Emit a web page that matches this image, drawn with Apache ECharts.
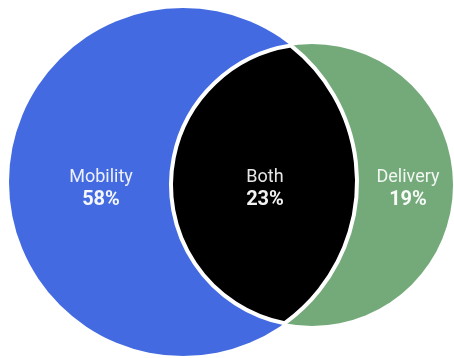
<!DOCTYPE html>
<html>
<head>
<meta charset="utf-8">
<script src="https://cdn.jsdelivr.net/npm/echarts@6/dist/echarts.min.js"></script>
<style>
  html, body { margin: 0; padding: 0; background: #ffffff; }
  #chart { width: 454px; height: 358px; }
</style>
</head>
<body>
<div id="chart"></div>
<script>
  // region names and their shares (%)
  const regionNames = ['Mobility', 'Both', 'Delivery'];
  const regionShares = [58, 23, 19];

  // the two sets of the diagram
  const setNames = ['Mobility', 'Delivery'];

  // layout in axis units (axis spans the whole canvas)
  const layout = {
    circleX: [183, 312],
    circleY: [182, 185],
    circleR: [174, 141],
    labelX: [101, 265, 408],
    labelY: 188
  };

  const colors = {
    Mobility: '#436ae0',
    Delivery: '#74aa7a',
    Both: '#000000'
  };

  const chart = echarts.init(document.getElementById('chart'));

  // circle of set i in pixels
  function circlePx(api, i) {
    const c = api.coord([layout.circleX[i], layout.circleY[i]]);
    const r = Math.abs(api.size([layout.circleR[i], 0])[0]);
    return { x: c[0], y: c[1], r: r };
  }

  // lens shape (intersection of the two circles) as svg path
  function lensPath(a, b) {
    const dx = b.x - a.x, dy = b.y - a.y;
    const d = Math.sqrt(dx * dx + dy * dy);
    const t = (a.r * a.r - b.r * b.r + d * d) / (2 * d);
    const h = Math.sqrt(a.r * a.r - t * t);
    const mx = a.x + t * dx / d, my = a.y + t * dy / d;
    const top = [mx + h * dy / d, my - h * dx / d];
    const bot = [mx - h * dy / d, my + h * dx / d];
    const p1 = top[1] < bot[1] ? top : bot;
    const p2 = top[1] < bot[1] ? bot : top;
    return 'M' + p1[0] + ' ' + p1[1] +
      ' A' + a.r + ' ' + a.r + ' 0 0 1 ' + p2[0] + ' ' + p2[1] +
      ' A' + b.r + ' ' + b.r + ' 0 0 1 ' + p1[0] + ' ' + p1[1] + ' Z';
  }

  const option = {
    animation: false,
    grid: { left: 0, right: 0, top: 0, bottom: 0 },
    xAxis: { type: 'value', min: 0, max: 454, show: false },
    yAxis: { type: 'value', min: 0, max: 358, inverse: true, show: false },
    series: [
      // the two circles + their intersection
      {
        type: 'custom',
        coordinateSystem: 'cartesian2d',
        data: setNames.concat(['Both']).map(function (n, i) { return [i]; }),
        renderItem: function (params, api) {
          const i = params.dataIndex;
          if (i < 2) {
            const c = circlePx(api, i);
            return {
              type: 'circle',
              shape: { cx: c.x, cy: c.y, r: c.r },
              style: { fill: colors[setNames[i]] }
            };
          }
          return {
            type: 'path',
            shape: { pathData: lensPath(circlePx(api, 0), circlePx(api, 1)) },
            style: { fill: colors.Both, stroke: '#ffffff', lineWidth: 4 }
          };
        }
      },
      // labels
      {
        type: 'custom',
        coordinateSystem: 'cartesian2d',
        data: regionNames.map(function (n, i) { return [layout.labelX[i], layout.labelY]; }),
        renderItem: function (params, api) {
          const i = params.dataIndex;
          const p = api.coord([api.value(0), api.value(1)]);
          return {
            type: 'group',
            children: [
              {
                type: 'text',
                style: {
                  text: regionNames[i], x: p[0], y: p[1] - 11,
                  fill: 'rgba(255,255,255,0.9)', font: '400 18px Roboto',
                  align: 'center', verticalAlign: 'middle'
                }
              },
              {
                type: 'text',
                style: {
                  text: regionShares[i] + '%', x: p[0], y: p[1] + 12,
                  fill: 'rgba(255,255,255,0.95)', font: '700 20px Roboto',
                  align: 'center', verticalAlign: 'middle'
                }
              }
            ]
          };
        }
      }
    ]
  };

  chart.setOption(option);
</script>
</body>
</html>
